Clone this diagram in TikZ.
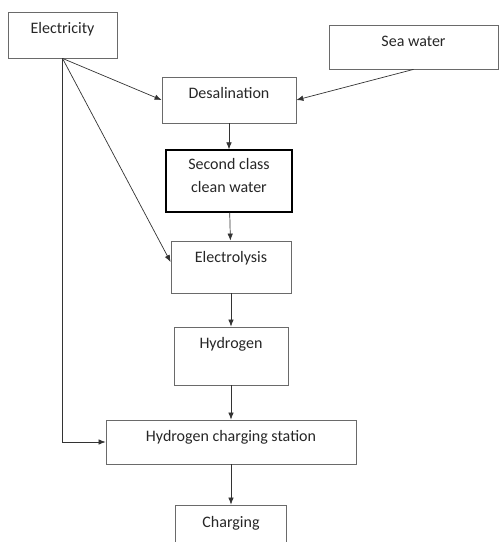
\documentclass[tikz,border=0pt]{standalone}
\usepackage{fontspec}
\setmainfont{Carlito}
\usetikzlibrary{arrows.meta}
\definecolor{boxgray}{HTML}{6A6A6A}
\definecolor{linegray}{HTML}{333333}
\definecolor{txtgray}{HTML}{262626}

\begin{document}
\begin{tikzpicture}[x=1pt, y=1pt, node distance=86pt, >={Latex[length=7pt,width=5.5pt]},
    every node/.style={font=\fontsize{16}{19}\selectfont, text=txtgray},
    flowbox/.style={draw=boxgray, line width=0.8pt, align=center, inner ysep=0pt, text height=22pt},
    flowline/.style={->, draw=linegray, line width=0.7pt}]
    \clip (0,0) rectangle (499,542);
    \node[flowbox, minimum width=109pt, text depth=24pt] (elec) at (62.5,507) {Electricity};
    \node[flowbox, minimum width=169pt, text depth=22pt] (sea) at (413.5,495) {Sea water};
    \node[flowbox, minimum width=134pt, text depth=24pt] (desal) at (229,442) {Desalination};
    \node[flowbox, below of=desal, yshift=5pt, draw=black, line width=1.2pt, minimum width=126pt, text height=43pt, text depth=19pt,
        font=\fontsize{16}{23}\selectfont] (clean) {Second class\\clean water};
    \node[flowbox, below of=clean, xshift=2pt, minimum width=120pt, text depth=30pt] (elys) {Electrolysis};
    \node[flowbox, below of=elys, yshift=-3pt, minimum width=114pt, text depth=36pt] (hyd) {Hydrogen};
    \node[flowbox, below of=hyd, minimum width=250pt, text depth=22pt] (hcs) {Hydrogen charging station};
    \node[flowbox, below of=hcs, minimum width=111pt, text depth=24pt] (chg) {Charging};
    % supply lines
    \draw[flowline] (elec.south) -- (desal.west);
    \draw[flowline] (elec.south) -- ([yshift=5pt]elys.west);
    \draw[flowline] (elec.south) |- (hcs.west);
    \draw[flowline] (sea.south) -- (desal.east);
    % main chain
    \draw[flowline] (desal) -- (clean);
    \draw[flowline] (clean) -- (elys);
    \draw[flowline] (elys) -- (hyd);
    \draw[flowline] (hyd) -- (hcs);
    \draw[flowline] (hcs) -- (chg);
\end{tikzpicture}
\end{document}
